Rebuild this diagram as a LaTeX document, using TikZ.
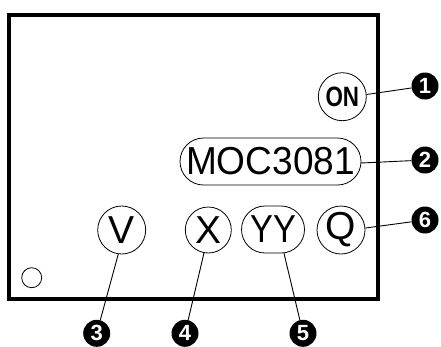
\documentclass[tikz,border=0pt]{standalone}
\usepackage{fontspec}
\setmainfont{Liberation Sans}
\usetikzlibrary{shapes.misc}
\begin{document}
\begin{tikzpicture}[x=1pt,y=-1pt,
  lbl/.style={draw,circle,line width=0.8pt,minimum size=48pt,inner sep=0pt,font=\fontsize{39}{39}\selectfont},
  pill/.style={draw,rounded rectangle,line width=0.8pt,minimum height=47pt,inner sep=0pt,font=\fontsize{39}{39}\selectfont},
  num/.style={circle,fill=black,text=white,minimum size=27pt,inner sep=0pt,font=\fontsize{22}{22}\bfseries\selectfont},
  lead/.style={line width=0.9pt}]
\useasboundingbox (0,0) rectangle (441,346);
\draw[line width=4pt] (9.3,15.3) rectangle (378.3,299);
\node[lbl,font=\fontsize{28}{28}\bfseries\selectfont] (on) at (342.3,96.7) {\scalebox{0.8}[1]{ON}};
\node[pill,minimum width=181pt] (moc) at (270.5,161.5) {\scalebox{0.95}[1]{MOC3081}};
\node[lbl] (v) at (121.7,230) {V};
\node[lbl,minimum size=46pt] (x) at (208.3,230) {X};
\node[pill,minimum width=63pt] (yy) at (273,229.5) {\scalebox{0.88}[1]{YY}};
\node[lbl] (q) at (341,230) {Q};
\node[draw,circle,line width=0.8pt,minimum size=20pt,inner sep=0pt] (dot) at (31.7,277.7) {};
\node[num] (n1) at (425,86) {1};
\node[num] (n2) at (425,160) {2};
\node[num] (n6) at (425,220) {6};
\node[num] (n3) at (96.7,333.3) {3};
\node[num] (n4) at (185,333.3) {4};
\node[num] (n5) at (303,333.3) {5};
\coordinate (a1) at (366.5,94.5);
\coordinate (a2) at (361,163);
\coordinate (a6) at (365.5,228);
\coordinate (a3) at (118.3,254);
\coordinate (a4) at (204,253);
\coordinate (a5) at (284,253.3);
\draw[lead] (a1) -- (n1);
\draw[lead] (a2) -- (n2);
\draw[lead] (a6) -- (n6);
\draw[lead] (a3) -- (n3);
\draw[lead] (a4) -- (n4);
\draw[lead] (a5) -- (n5);
\end{tikzpicture}
\end{document}
